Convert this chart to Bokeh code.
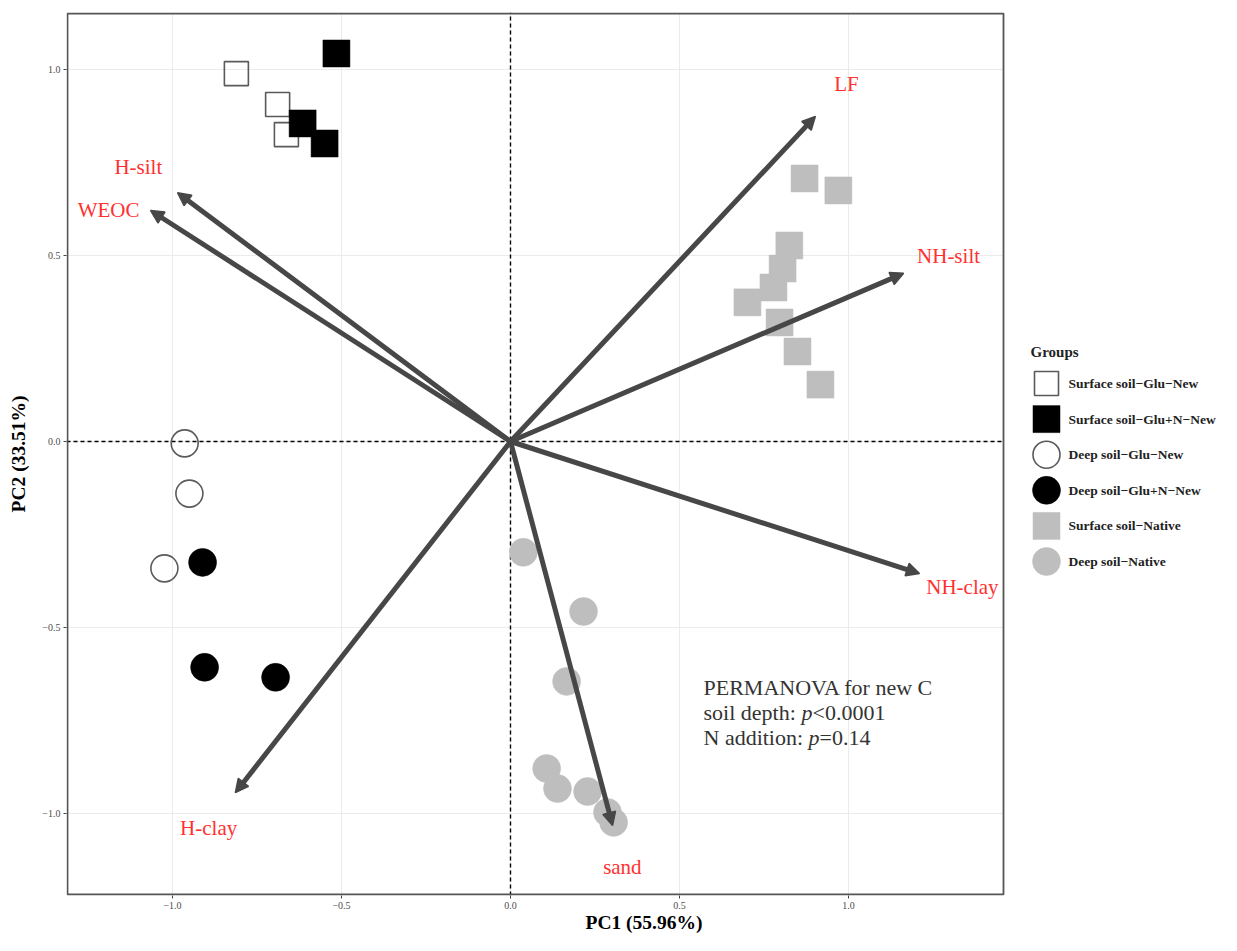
from bokeh.plotting import figure
from bokeh.models import Range1d, FixedTicker, Arrow, NormalHead, ColumnDataSource, Label, BoxAnnotation
from bokeh.embed import file_html
from bokeh.resources import INLINE
from bokeh.core.properties import value

# ---------------- data ----------------
groups = ["Surface soil\u2212Glu\u2212New", "Surface soil\u2212Glu+N\u2212New",
          "Deep soil\u2212Glu\u2212New", "Deep soil\u2212Glu+N\u2212New",
          "Surface soil\u2212Native", "Deep soil\u2212Native"]

surf_glu_x = [-0.811, -0.689, -0.663]
surf_glu_y = [0.989, 0.906, 0.825]
surf_glun_x = [-0.515, -0.615, -0.550]
surf_glun_y = [1.043, 0.855, 0.801]
deep_glu_x = [-0.964, -0.950, -1.024]
deep_glu_y = [-0.005, -0.140, -0.341]
deep_glun_x = [-0.911, -0.905, -0.695]
deep_glun_y = [-0.325, -0.607, -0.634]
surf_nat_x = [0.870, 0.970, 0.825, 0.805, 0.778, 0.701, 0.796, 0.849, 0.917]
surf_nat_y = [0.707, 0.675, 0.527, 0.465, 0.414, 0.374, 0.320, 0.242, 0.153]
deep_nat_x = [0.038, 0.216, 0.166, 0.107, 0.139, 0.228, 0.287, 0.305]
deep_nat_y = [-0.298, -0.457, -0.645, -0.879, -0.933, -0.941, -0.997, -1.024]

vectors = ["LF", "NH-silt", "NH-clay", "sand", "H-clay", "H-silt", "WEOC"]
vec_x = [0.902, 1.163, 1.210, 0.302, -0.814, -0.985, -1.065]
vec_y = [0.874, 0.452, -0.355, -1.032, -0.944, 0.669, 0.621]
lab_x = [0.994, 1.296, 1.337, 0.331, -0.893, -1.101, -1.189]
lab_y = [0.960, 0.500, -0.392, -1.145, -1.038, 0.739, 0.621]

x_ticks = [-1.0, -0.5, 0.0, 0.5, 1.0]
y_ticks = [-1.0, -0.5, 0.0, 0.5, 1.0]
tick_labels = ["\u22121.0", "\u22120.5", "0.0", "0.5", "1.0"]

x_title = "PC1 (55.96%)"
y_title = "PC2 (33.51%)"
legend_title = "Groups"
note_line1 = "PERMANOVA for new C"
note_line2 = ["soil depth: ", "p", "<0.0001"]
note_line3 = ["N addition: ", "p", "=0.14"]

# ---------------- layout constants (pixels) ----------------
W, H = 1221, 935
BL, BT, BB = 66, 12, 40          # borders left / top / bottom
X0, XS = 510, 338                # figure px of x=0, px per unit
Y0, YS = 441, 372                # figure px of y=0, px per unit
PANEL_RIGHT_PX = 1003            # right edge of the plotting panel


def px2x(px):
    return (px - X0) / XS


def py2y(py):
    return (Y0 - py) / YS


x_start, x_end = px2x(BL), px2x(W)
y_end, y_start = py2y(BT), py2y(H - BB)
panel_right = px2x(PANEL_RIGHT_PX)

SERIF = "Liberation Serif"
OUTLINE = "#5a5a5a"
GREY = "#bebebe"
ARROW = "#474747"
RED = "#ff3030"

styles = [
    dict(marker="square", size=24, fill_color="white", fill_alpha=0.0, line_color=OUTLINE, line_width=1.6),
    dict(marker="square", size=27, fill_color="black", fill_alpha=1.0, line_color="black", line_width=0.5),
    dict(marker="circle", size=27, fill_color="white", fill_alpha=0.0, line_color=OUTLINE, line_width=1.6),
    dict(marker="circle", size=28, fill_color="black", fill_alpha=1.0, line_color="black", line_width=0.5),
    dict(marker="square", size=27, fill_color=GREY, fill_alpha=1.0, line_color=GREY, line_width=0.5),
    dict(marker="circle", size=28, fill_color=GREY, fill_alpha=1.0, line_color=GREY, line_width=0.5),
]
series = [(surf_glu_x, surf_glu_y), (surf_glun_x, surf_glun_y), (deep_glu_x, deep_glu_y),
          (deep_glun_x, deep_glun_y), (surf_nat_x, surf_nat_y), (deep_nat_x, deep_nat_y)]

# ---------------- figure ----------------
p = figure(width=W, height=H,
           x_range=Range1d(x_start, x_end), y_range=Range1d(y_start, y_end),
           output_backend="svg", toolbar_location=None,
           min_border_left=BL, min_border_right=0, min_border_top=BT, min_border_bottom=BB)
p.background_fill_color = "white"
p.border_fill_color = "white"
p.outline_line_color = None
p.grid.visible = False

p.xaxis.ticker = FixedTicker(ticks=x_ticks)
p.yaxis.ticker = FixedTicker(ticks=y_ticks)
p.xaxis.major_label_overrides = {t: s for t, s in zip(x_ticks, tick_labels)}
p.yaxis.major_label_overrides = {t: s for t, s in zip(y_ticks, tick_labels)}
p.xaxis.bounds = (x_start, panel_right)
for ax in (p.xaxis, p.yaxis):
    ax.axis_line_color = None
    ax.major_tick_in = 0
    ax.major_tick_out = 3
    ax.major_tick_line_color = "#444444"
    ax.minor_tick_line_color = None
    ax.major_label_text_font = SERIF
    ax.major_label_text_font_size = "10px"
    ax.major_label_text_color = "#4d4d4d"
    ax.major_label_standoff = 3
    ax.axis_label_text_font = SERIF
    ax.axis_label_text_font_style = "bold"
    ax.axis_label_text_font_size = "19.5px"
    ax.axis_label_text_color = "black"
p.xaxis.axis_label = x_title
p.yaxis.axis_label = y_title
p.xaxis.axis_label_standoff = 0
p.yaxis.axis_label_standoff = 10

# grid lines inside the panel only
p.segment(x0=x_ticks, x1=x_ticks, y0=[y_start] * len(x_ticks), y1=[y_end] * len(x_ticks),
          line_color="#ebebeb", line_width=1)
p.segment(x0=[x_start] * len(y_ticks), x1=[panel_right] * len(y_ticks), y0=y_ticks, y1=y_ticks,
          line_color="#ebebeb", line_width=1)

# zero reference lines
p.segment(x0=[0.0, x_start], x1=[0.0, panel_right], y0=[y_start, 0.0], y1=[y_end, 0.0],
          line_color="black", line_width=1.4, line_dash="4 3")

for (xs, ys), st in zip(series, styles):
    p.scatter(x=xs, y=ys, **st)

vsrc = ColumnDataSource(dict(x0=[0.0] * len(vec_x), y0=[0.0] * len(vec_y), x1=vec_x, y1=vec_y))
p.add_layout(Arrow(end=NormalHead(size=13, fill_color=ARROW, line_color=ARROW, line_width=1.5),
                   x_start="x0", y_start="y0", x_end="x1", y_end="y1", source=vsrc,
                   line_color=ARROW, line_width=5))

lsrc = ColumnDataSource(dict(x=lab_x, y=lab_y, t=vectors))
p.text(x="x", y="y", text="t", source=lsrc, text_align="center", text_baseline="middle",
       text_color=RED, text_font=value(SERIF), text_font_size="21px")

note_x = 0.571
note_y = [-0.661, -0.728, -0.796]
common = dict(text_font=SERIF, text_font_size="22px", text_color="#333333", text_baseline="middle")
p.add_layout(Label(x=note_x, y=note_y[0], text=note_line1, **common))
for line, yy, w in ((note_line2, note_y[1], 98), (note_line3, note_y[2], 105)):
    p.add_layout(Label(x=note_x, y=yy, text=line[0], **common))
    p.add_layout(Label(x=note_x, y=yy, x_offset=w, text=line[1], text_font_style="italic", **common))
    p.add_layout(Label(x=note_x, y=yy, x_offset=w + 11, text=line[2], **common))

# panel border
p.add_layout(BoxAnnotation(left=x_start + 1 / XS, right=panel_right, top=y_end - 1 / YS,
                           bottom=y_start + 1 / YS, fill_alpha=0.0,
                           line_color="#555555", line_alpha=1.0, line_width=1.8))

# ---------------- legend (drawn manually to the right of the panel) ----------------
key_px, text_px, title_px = 1046, 1068, 1030
title_py, row0_py, step = 351, 383, 35.6
rows_py = [row0_py + step * i for i in range(len(groups))]
p.text(x=[px2x(title_px)], y=[py2y(title_py)], text=[legend_title], text_align="left",
       text_baseline="middle", text_font=value(SERIF), text_font_style="bold",
       text_font_size="15px", text_color="#222222")
for yy, st in zip(rows_py, styles):
    p.scatter(x=[px2x(key_px)], y=[py2y(yy)], **st)
p.text(x=[px2x(text_px)] * len(groups), y=[py2y(v) for v in rows_py], text=groups,
       text_align="left", text_baseline="middle", text_font=value(SERIF),
       text_font_style="bold", text_font_size="13.5px", text_color="#222222")

open("out.html", "w").write(file_html(p, INLINE))
